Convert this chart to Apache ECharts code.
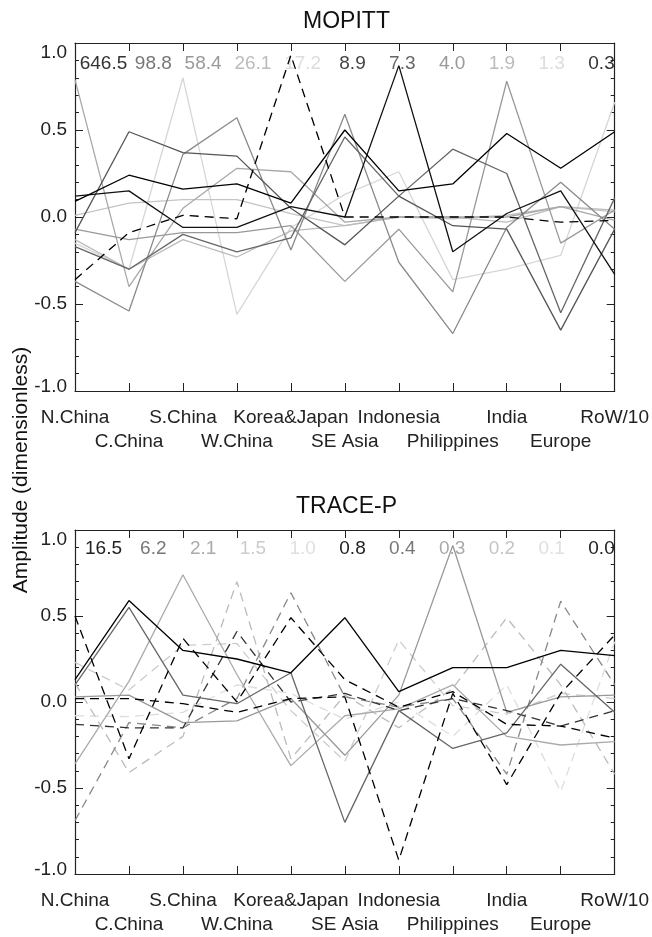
<!DOCTYPE html>
<html><head><meta charset="utf-8">
<script src="https://cdn.jsdelivr.net/npm/echarts@6/dist/echarts.min.js"></script>
<style>html,body{margin:0;padding:0;background:#fff}#c{width:652px;height:937px}</style>
</head><body><div id="c"></div>
<script>
const categories = ['N.China','C.China','S.China','W.China','Korea&Japan','SE Asia','Indonesia','Philippines','India','Europe','RoW/10'];
const yTicks = [-1.0, -0.5, 0.0, 0.5, 1.0];

// MOPITT panel
const mopittNumbers = ['646.5','98.8','58.4','26.1','17.2','8.9','7.3','4.0','1.9','1.3','0.3'];
const mopittNumberColors = ['#333','#777','#999','#bbb','#ddd','#444','#666','#999','#bbb','#ddd','#333'];
const mopittColors = ['#d6d6d6','#c4c4c4','#bbbbbb','#a8a8a8','#999999','#8a8a8a','#666666','#555555','#000000','#111111','#000000'];
const mopittDashed = [false,false,false,false,false,false,false,false,true,false,false];
const m1 = [-0.15, -0.30, 0.80, -0.56, -0.06, 0.13, 0.26, -0.36, -0.30, -0.22, 0.66];
const m2 = [0.01, 0.08, 0.10, 0.10, 0.02, -0.05, 0.00, -0.01, 0.01, 0.06, 0.03];
const m3 = [-0.13, -0.30, -0.13, -0.23, -0.08, -0.05, 0.00, 0.00, -0.03, 0.06, 0.04];
const m4 = [0.79, -0.40, 0.05, 0.28, 0.26, -0.03, 0.00, 0.00, 0.00, 0.06, -0.02];
const m5 = [-0.07, -0.13, -0.09, -0.09, -0.05, -0.37, -0.07, -0.43, 0.78, -0.15, 0.04];
const m6 = [-0.37, -0.54, 0.36, 0.57, -0.19, 0.59, -0.26, -0.67, -0.06, 0.20, -0.07];
const m7 = [-0.17, -0.30, -0.10, -0.20, -0.12, 0.46, 0.12, 0.39, 0.25, -0.55, 0.11];
const m8 = [-0.09, 0.49, 0.37, 0.35, 0.05, -0.16, 0.12, -0.05, -0.07, -0.65, -0.07];
const m9 = [-0.36, -0.09, 0.01, -0.01, 0.93, 0.00, 0.00, 0.00, 0.00, -0.03, -0.02];
const m10 = [0.12, 0.15, -0.06, -0.06, 0.06, 0.00, 0.87, -0.20, 0.02, 0.15, -0.33];
const m11 = [0.09, 0.24, 0.16, 0.19, 0.08, 0.50, 0.15, 0.19, 0.48, 0.28, 0.49];
const mopittData = [m1,m2,m3,m4,m5,m6,m7,m8,m9,m10,m11];

// TRACE-P panel
const traceNumbers = ['16.5','6.2','2.1','1.5','1.0','0.8','0.4','0.3','0.2','0.1','0.0'];
const traceNumberColors = ['#222','#777','#aaa','#ccc','#e0e0e0','#222','#777','#aaa','#c4c4c4','#e0e0e0','#222'];
const traceColors = ['#dddddd','#cccccc','#bbbbbb','#888888','#aaaaaa','#999999','#333333','#666666','#000000','#000000','#000000'];
const traceDashed = [true,true,true,true,false,false,true,false,true,true,false];
const t1 = [-0.08, -0.085, -0.06, 0.10, 0.05, -0.10, 0.00, -0.20, 0.10, -0.52, 0.35];
const t2 = [0.23, 0.07, 0.33, 0.34, -0.05, -0.345, 0.36, -0.02, -0.07, 0.05, 0.02];
const t3 = [0.11, -0.41, -0.20, 0.70, -0.33, 0.04, -0.15, 0.08, 0.49, 0.10, -0.42];
const t4 = [-0.69, -0.12, -0.15, 0.02, 0.635, 0.03, -0.03, 0.02, -0.42, 0.586, 0.10];
const t5 = [-0.36, 0.12, 0.74, 0.16, -0.37, -0.08, -0.04, 0.10, -0.20, -0.25, -0.23];
const t6 = [0.03, 0.04, -0.12, -0.11, 0.02, -0.31, 0.04, 0.91, -0.06, 0.03, 0.04];
const t7 = [-0.13, -0.15, -0.15, 0.41, 0.00, 0.05, -0.05, 0.02, -0.05, -0.14, -0.05];
const t8 = [0.10, 0.55, 0.04, -0.01, 0.17, -0.70, -0.05, -0.27, -0.18, 0.22, -0.06];
const t9 = [0.02, 0.02, -0.01, -0.06, 0.02, 0.03, -0.92, 0.05, -0.48, 0.05, 0.39];
const t10 = [0.50, -0.33, 0.37, 0.00, 0.49, 0.13, -0.03, 0.06, -0.13, -0.14, -0.21];
const t11 = [0.13, 0.59, 0.30, 0.25, 0.17, 0.49, 0.06, 0.20, 0.20, 0.30, 0.27];
const traceData = [t1,t2,t3,t4,t5,t6,t7,t8,t9,t10,t11];

const FONT = 'Liberation Sans, Arial, Helvetica, sans-serif';
const AX = '#222';

const grids = [
  {left:75, right:34, top:43, height:348},
  {left:75, right:34, top:530, height:347}
];

function xAxesFor(gi){
  return [
    {type:'category', gridIndex:gi, data:categories, boundaryGap:false, position:'bottom',
     axisLine:{onZero:false, lineStyle:{color:AX,width:1.2}},
     axisTick:{inside:true,length:8,interval:0,lineStyle:{color:AX}},
     axisLabel:{interval:0, color:'#222', fontFamily:FONT, fontSize:19, margin:15, lineHeight:24,
       formatter:(v,i)=> (i%2===1 ? '\n'+v : v)},
     splitLine:{show:false}},
    {type:'category', gridIndex:gi, data:categories, boundaryGap:false, position:'top',
     axisLine:{onZero:false, lineStyle:{color:AX,width:1.2}},
     axisTick:{inside:true,length:8,interval:0,lineStyle:{color:AX}},
     axisLabel:{show:false}, splitLine:{show:false}}
  ];
}
function yAxesFor(gi){
  const common = {type:'value', gridIndex:gi, min:-1, max:1, interval:0.5,
    axisLine:{show:true,onZero:false,lineStyle:{color:AX,width:1.2}},
    axisTick:{show:true,inside:true,length:8,lineStyle:{color:AX}},
    minorTick:{show:true,splitNumber:5,length:4,lineStyle:{color:AX}},
    splitLine:{show:false}, minorSplitLine:{show:false}};
  return [
    Object.assign({}, common, {position:'left',
      axisLabel:{color:'#222', fontFamily:FONT, fontSize:19, margin:8,
        formatter:(v)=>{
          const s = (Math.abs(v)<1e-9?0:v).toFixed(1);
          if (v>0.99) return '{s1| }\n{n|'+s+'}';
          if (v<-0.99) return '{n|'+s+'}\n{s2| }';
          return s;
        },
        rich:{n:{fontFamily:FONT,fontSize:19,color:'#222',lineHeight:20},
              s1:{fontSize:10,lineHeight:20},
              s2:{fontSize:6,lineHeight:8}}}}),
    Object.assign({}, common, {position:'right', axisLabel:{show:false}})
  ];
}

const series = [];
function addSeries(dataArr, colors, dashed, gi){
  dataArr.forEach((d,k)=>{
    series.push({type:'line', xAxisIndex:gi*2, yAxisIndex:gi*2, data:d, symbol:'none',
      silent:true, animation:false, z:2+k,
      lineStyle:{color:colors[k], width:1.3, type: dashed[k] ? [9,6] : 'solid'}});
  });
}
addSeries(mopittData, mopittColors, mopittDashed, 0);
addSeries(traceData, traceColors, traceDashed, 1);

const graphics = [];
function addNumbers(nums, cols, yc){
  nums.forEach((n,i)=>{
    graphics.push({type:'text', x:103.5+49.8*i, y:yc,
      style:{text:n, fill:cols[i], font:'19px '+FONT, textAlign:'center', textVerticalAlign:'middle'}});
  });
}
addNumbers(mopittNumbers, mopittNumberColors, 64);
addNumbers(traceNumbers, traceNumberColors, 549);
graphics.push({type:'text', x:346.5, y:22, style:{text:'MOPITT', fill:'#111', font:'23px '+FONT, textAlign:'center', textVerticalAlign:'middle'}});
graphics.push({type:'text', x:346.5, y:507, style:{text:'TRACE-P', fill:'#111', font:'23px '+FONT, textAlign:'center', textVerticalAlign:'middle'}});
graphics.push({type:'text', x:21, y:470, rotation:Math.PI/2,
  style:{text:'Amplitude (dimensionless)', fill:'#111', font:'21px '+FONT, textAlign:'center', textVerticalAlign:'middle'}});

const chart = echarts.init(document.getElementById('c'), null, {renderer:'canvas'});
chart.setOption({
  backgroundColor:'#fff',
  animation:false,
  grid:grids,
  xAxis:[...xAxesFor(0), ...xAxesFor(1)],
  yAxis:[...yAxesFor(0), ...yAxesFor(1)],
  series:series,
  graphic:graphics
});
</script></body></html>
